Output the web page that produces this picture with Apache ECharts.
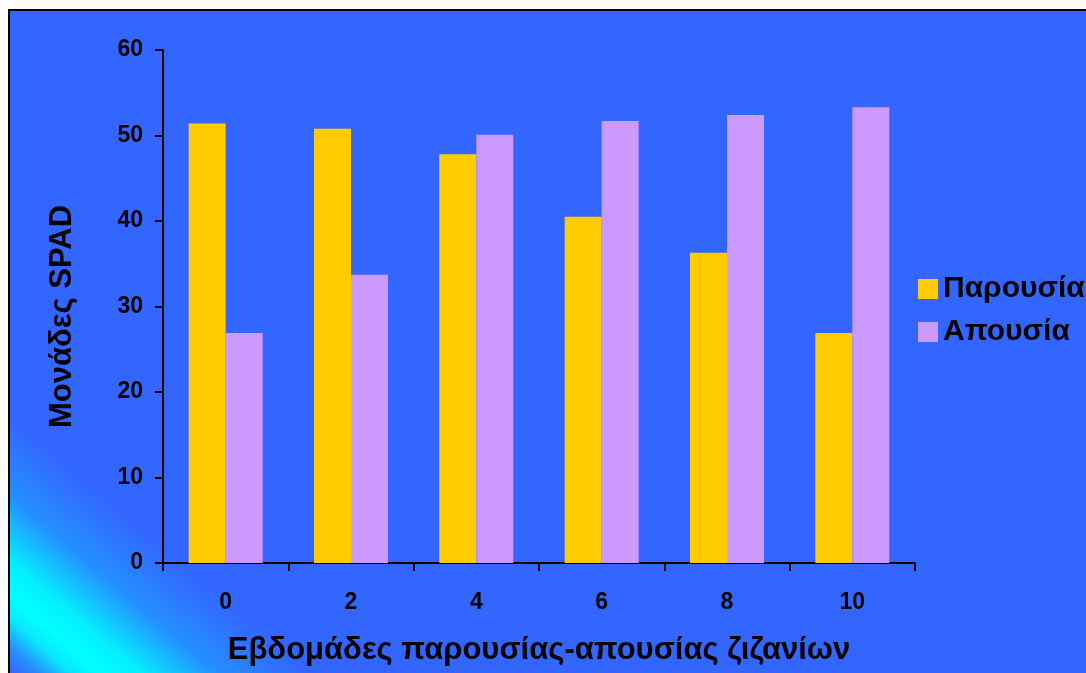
<!DOCTYPE html>
<html>
<head>
<meta charset="utf-8">
<script src="https://cdn.jsdelivr.net/npm/echarts@6/dist/echarts.min.js"></script>
<style>
html,body{margin:0;padding:0;background:#fff;}
#c{width:1086px;height:673px;}
</style>
</head>
<body>
<div id="c"></div>
<script>
const categories = ['0', '2', '4', '6', '8', '10'];
const parousia = [51.4, 50.8, 47.8, 40.5, 36.3, 26.9];
const apousia = [26.9, 33.7, 50.1, 51.7, 52.4, 53.3];
const seriesNames = ['Παρουσία', 'Απουσία'];
const yTicks = {min: 0, max: 60, interval: 10};
const xTitle = 'Εβδομάδες παρουσίας-απουσίας ζιζανίων';
const yTitle = 'Μονάδες SPAD';

const FONT = "'Liberation Sans', Arial, sans-serif";
const chart = echarts.init(document.getElementById('c'), null, {renderer: 'canvas'});

// gradient background (diagonal, cyan band near bottom-left corner)
const gx0 = 9, gy0 = 673, L = 260, dx = 0.651, dy = -0.759;
const bg = {
  type: 'linear', global: true,
  x: gx0, y: gy0, x2: gx0 + L * dx, y2: gy0 + L * dy,
  colorStops: [
    {offset: 0, color: '#3366ff'},
    {offset: 0.08, color: '#2690ff'},
    {offset: 0.16, color: '#08e8ff'},
    {offset: 0.23, color: '#00ffff'},
    {offset: 0.33, color: '#04eeff'},
    {offset: 0.52, color: '#2490ff'},
    {offset: 0.75, color: '#3366ff'},
    {offset: 1, color: '#3366ff'}
  ]
};

chart.setOption({
  backgroundColor: '#ffffff',
  animation: false,
  graphic: [{
    type: 'rect', z: -10, silent: true,
    shape: {x: 9, y: 10, width: 1100, height: 700},
    style: {fill: bg, stroke: '#000', lineWidth: 2}
  }],
  textStyle: {fontFamily: FONT},
  grid: {left: 163, top: 50, right: 171, bottom: 110, outerBoundsMode: 'none', containLabel: false},
  legend: {
    orient: 'vertical', left: 913, top: 269,
    itemWidth: 20, itemHeight: 20, itemGap: 13,
    icon: 'rect',
    textStyle: {fontFamily: FONT, fontSize: 30, fontWeight: 'bold', color: '#000', padding: [0, 0, 0, 0]},
    data: seriesNames
  },
  xAxis: {
    type: 'category', data: categories,
    name: xTitle, nameLocation: 'middle', nameGap: 72,
    nameTextStyle: {fontFamily: FONT, fontSize: 31, fontWeight: 'bold', color: '#000'},
    axisLine: {lineStyle: {color: '#000', width: 2}},
    axisTick: {show: true, length: 8, lineStyle: {color: '#000', width: 2}},
    axisLabel: {margin: 28, fontFamily: FONT, fontSize: 23, fontWeight: 'bold', color: '#000'},
    splitLine: {show: false}
  },
  yAxis: {
    type: 'value', min: yTicks.min, max: yTicks.max, interval: yTicks.interval,
    name: yTitle, nameLocation: 'middle', nameGap: 85,
    nameTextStyle: {fontFamily: FONT, fontSize: 31, fontWeight: 'bold', color: '#000', padding: [0, 20, 0, 0]},
    axisLine: {show: true, lineStyle: {color: '#000', width: 2}},
    axisTick: {show: true, length: 8, lineStyle: {color: '#000', width: 2}},
    axisLabel: {margin: 20, fontFamily: FONT, fontSize: 23, fontWeight: 'bold', color: '#000'},
    splitLine: {show: false}
  },
  series: [
    {name: seriesNames[0], type: 'bar', data: parousia, barWidth: 37, barGap: '0%',
     itemStyle: {color: '#FFCC00'}},
    {name: seriesNames[1], type: 'bar', data: apousia, barWidth: 37, barGap: '0%',
     itemStyle: {color: '#CC99FF'}}
  ]
});
</script>
</body>
</html>
